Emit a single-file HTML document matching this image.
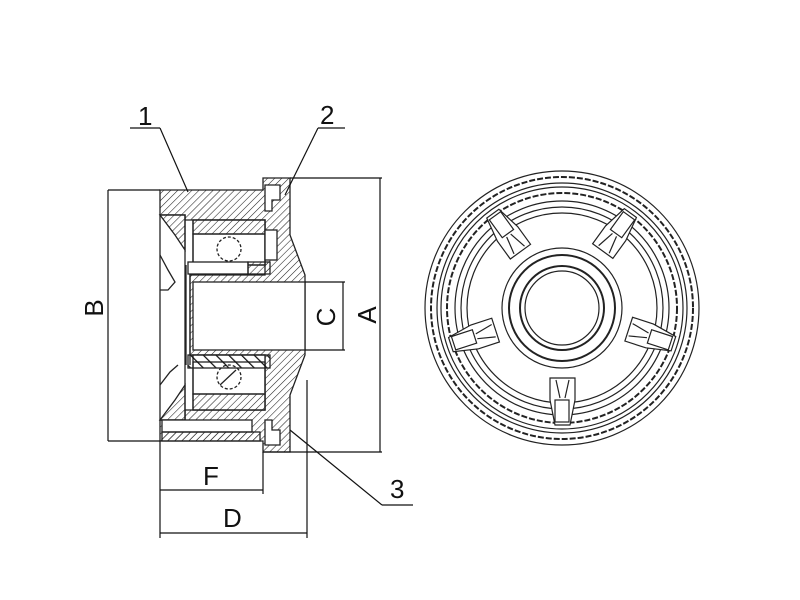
<!DOCTYPE html>
<html><head><style>html,body{margin:0;padding:0;background:#fff}svg{display:block}</style></head>
<body>
<svg width="800" height="600" viewBox="0 0 800 600" xmlns="http://www.w3.org/2000/svg" font-family="Liberation Sans, sans-serif">
<defs>
<pattern id="h" width="5" height="5" patternUnits="userSpaceOnUse" patternTransform="rotate(45)">
<line x1="0" y1="0" x2="0" y2="5" stroke="#222" stroke-width="1.1"/></pattern>
<pattern id="h2" width="9" height="9" patternUnits="userSpaceOnUse" patternTransform="rotate(-45)">
<line x1="0" y1="0" x2="0" y2="9" stroke="#111" stroke-width="2.5"/></pattern>
</defs>
<rect width="800" height="600" fill="#fff"/>
<g stroke="#222" stroke-width="1.3" fill="none">
<path d="M160,190 L263,190 L263,178 L290,178 L290,235 L305,275 L305,355 L290,395 L290,452 L263,452 L263,441 L160,441 L160,420 L185,420 L185,410 L265,410 L265,355 L190,355 L190,275 L265,275 L265,220 L185,220 L185,215 L160,215 Z" fill="url(#h)"/>
<rect x="160" y="215" width="25" height="205" fill="#fff"/>
<path d="M160,215 L185,215 L185,250 L175,235 Z" fill="url(#h)"/>
<path d="M160,420 L185,420 L185,385 L175,400 Z" fill="url(#h)"/>
<rect x="193" y="282" width="112" height="68" fill="#fff"/>
<line x1="186" y1="265" x2="186" y2="365"/>
<line x1="190" y1="265" x2="190" y2="365"/>
<rect x="193" y="220" width="72" height="45" fill="#fff"/>
<rect x="193" y="220" width="72" height="14" fill="url(#h)"/>
<circle cx="229" cy="249" r="12" stroke-dasharray="3,2"/>
<rect x="193" y="234" width="72" height="31"/>
<rect x="193" y="355" width="72" height="55" fill="#fff"/>
<rect x="193" y="394" width="72" height="16" fill="url(#h)"/>
<circle cx="229" cy="377" r="12" stroke-dasharray="3,2"/>
<line x1="220" y1="385" x2="236" y2="370"/>
<rect x="193" y="362" width="72" height="32"/>
<rect x="188" y="355" width="82" height="13" fill="url(#h2)"/>
<rect x="188" y="262" width="60" height="12" fill="#fff"/>
<rect x="248" y="262" width="22" height="12" fill="url(#h)"/>
<path d="M265,185 L280,185 L280,200 L272,200 L272,211 L265,211 Z" fill="#fff"/>
<path d="M265,420 L272,420 L272,430 L280,430 L280,445 L265,445 Z" fill="#fff"/>
<rect x="265" y="230" width="12" height="30" fill="#fff"/>
<path d="M160,255 L168,270 L175,282 L168,290 L160,290"/>
<path d="M160,385 L170,372 L178,365"/>
<rect x="162" y="420" width="90" height="12" fill="#fff"/>
<rect x="162" y="432" width="98" height="9" fill="url(#h)"/>
</g>
<g stroke="#111" stroke-width="1.2" fill="none">
<line x1="108" y1="190" x2="160" y2="190"/><line x1="108" y1="441" x2="160" y2="441"/>
<line x1="108" y1="190" x2="108" y2="441"/>
<line x1="290" y1="178" x2="382" y2="178"/><line x1="263" y1="452" x2="382" y2="452"/>
<line x1="380" y1="178" x2="380" y2="452"/>
<line x1="305" y1="282" x2="345" y2="282"/><line x1="305" y1="350" x2="345" y2="350"/>
<line x1="343" y1="282" x2="343" y2="350"/>
<line x1="160" y1="441" x2="160" y2="538"/><line x1="263" y1="452" x2="263" y2="494"/><line x1="307" y1="380" x2="307" y2="538"/>
<line x1="160" y1="490" x2="263" y2="490"/>
<line x1="160" y1="533" x2="307" y2="533"/>
<line x1="130" y1="128" x2="160" y2="128"/><line x1="160" y1="128" x2="188" y2="192"/>
<line x1="318" y1="128" x2="345" y2="128"/><line x1="318" y1="128" x2="285" y2="195"/>
<line x1="382" y1="505" x2="413" y2="505"/><line x1="382" y1="505" x2="290" y2="430"/>
</g>
<g font-size="26" fill="#111">
<text x="138" y="125">1</text>
<text x="320" y="124">2</text>
<text x="390" y="498">3</text>
<text x="203" y="485">F</text>
<text x="223" y="527">D</text>
<text transform="translate(103,308) rotate(-90)" text-anchor="middle">B</text>
<text transform="translate(335,317) rotate(-90)" text-anchor="middle">C</text>
<text transform="translate(376,315) rotate(-90)" text-anchor="middle">A</text>
</g>
<g stroke="#222" fill="none" stroke-width="1.2">
<circle cx="562" cy="308" r="137"/>
<circle cx="562" cy="308" r="131" stroke-dasharray="6,2" stroke-width="2"/>
<circle cx="562" cy="308" r="125"/>
<circle cx="562" cy="308" r="121"/>
<circle cx="562" cy="308" r="115" stroke-dasharray="6,2" stroke-width="2"/>
<circle cx="562" cy="308" r="107"/>
<circle cx="562" cy="308" r="101"/>
<circle cx="562" cy="308" r="95"/>
<circle cx="562" cy="308" r="60"/>
<circle cx="562" cy="308" r="53" stroke-width="2"/>
<circle cx="562" cy="308" r="42" stroke-width="2"/>
<circle cx="562" cy="308" r="37"/>
<g fill="#fff">
<g transform="rotate(0 562 308)"><path d="M550,378 L575,378 L575,400 L570,425 L555,425 L550,400 Z"/><rect x="555" y="400" width="14" height="22"/><line x1="556" y1="380" x2="560" y2="398"/><line x1="569" y1="380" x2="565" y2="398"/></g>
<g transform="rotate(72 562 308)"><path d="M550,378 L575,378 L575,400 L570,425 L555,425 L550,400 Z"/><rect x="555" y="400" width="14" height="22"/><line x1="556" y1="380" x2="560" y2="398"/><line x1="569" y1="380" x2="565" y2="398"/></g>
<g transform="rotate(144 562 308)"><path d="M550,378 L575,378 L575,400 L570,425 L555,425 L550,400 Z"/><rect x="555" y="400" width="14" height="22"/><line x1="556" y1="380" x2="560" y2="398"/><line x1="569" y1="380" x2="565" y2="398"/></g>
<g transform="rotate(216 562 308)"><path d="M550,378 L575,378 L575,400 L570,425 L555,425 L550,400 Z"/><rect x="555" y="400" width="14" height="22"/><line x1="556" y1="380" x2="560" y2="398"/><line x1="569" y1="380" x2="565" y2="398"/></g>
<g transform="rotate(288 562 308)"><path d="M550,378 L575,378 L575,400 L570,425 L555,425 L550,400 Z"/><rect x="555" y="400" width="14" height="22"/><line x1="556" y1="380" x2="560" y2="398"/><line x1="569" y1="380" x2="565" y2="398"/></g>
</g>
</g>
</svg>
</body></html>
